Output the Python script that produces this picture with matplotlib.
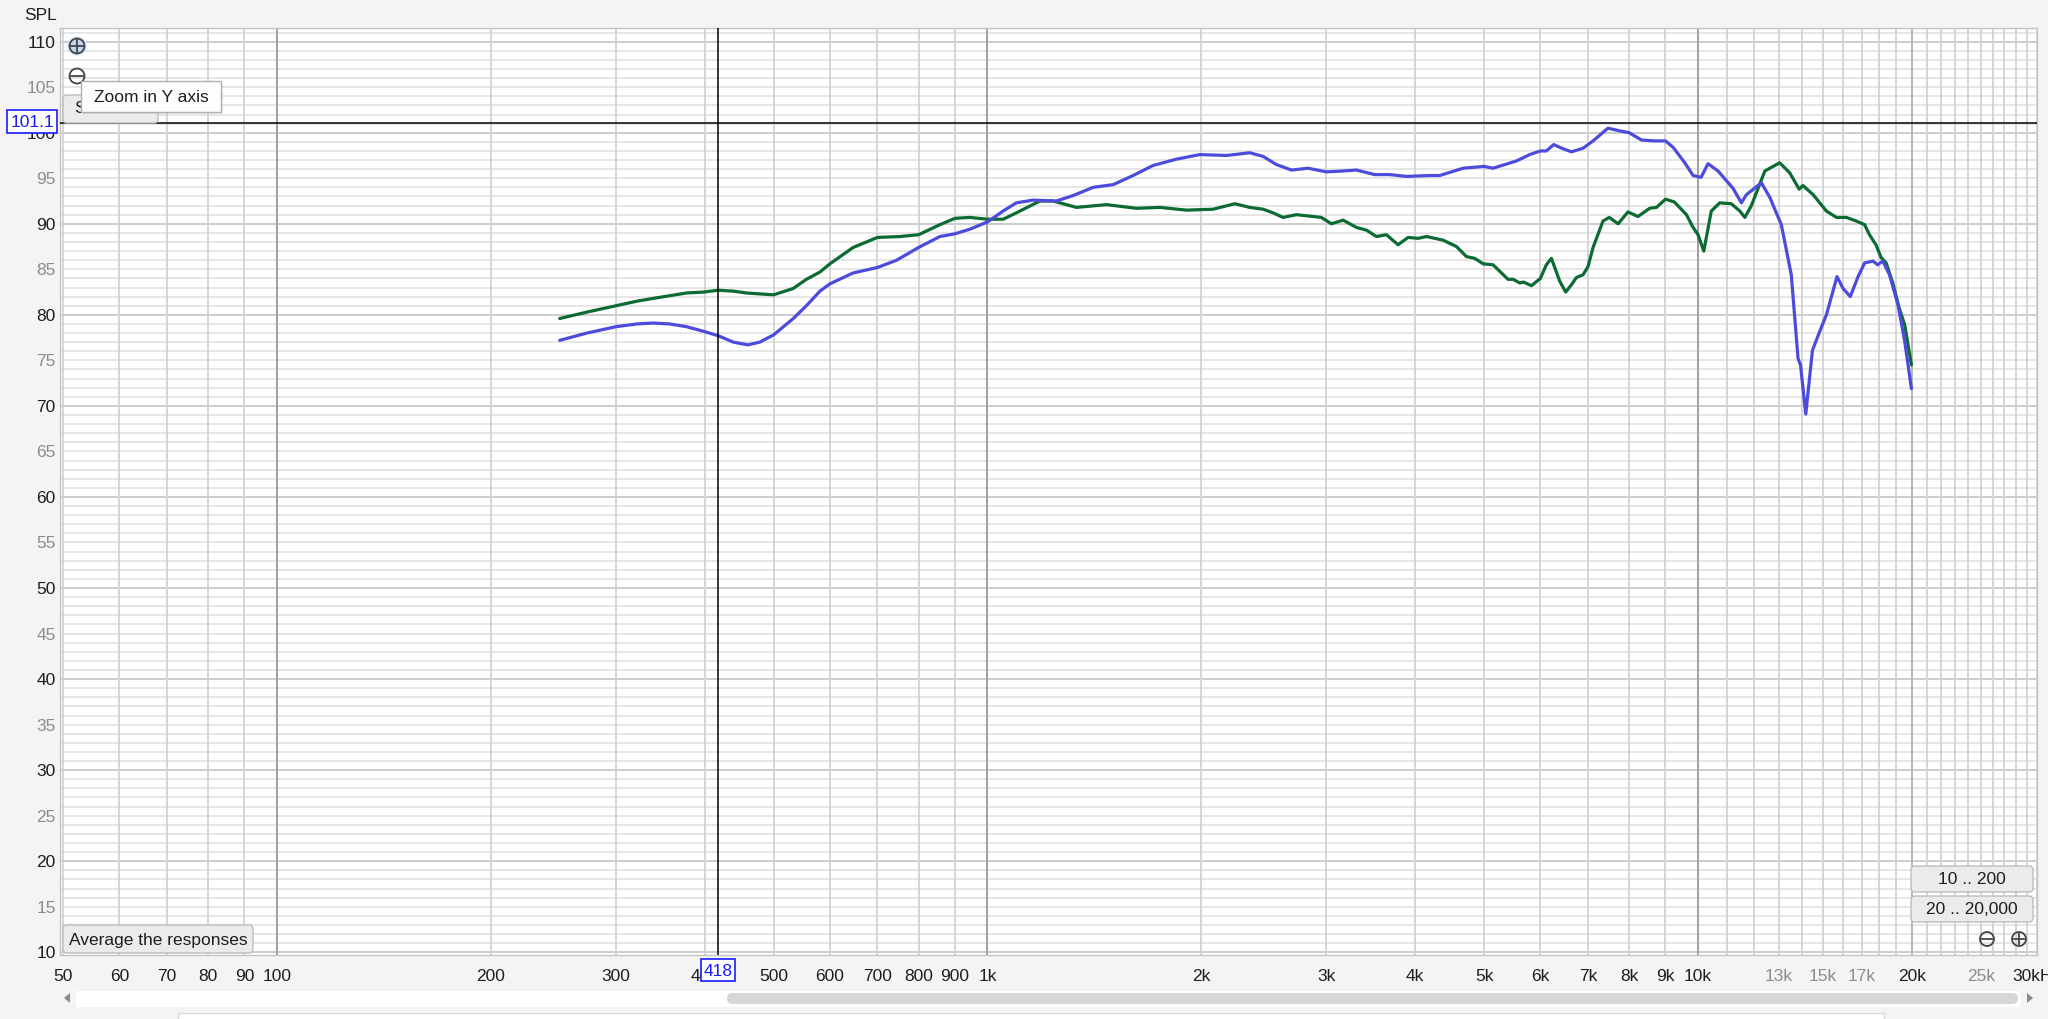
import matplotlib
matplotlib.use("Agg")
import matplotlib.pyplot as plt
from matplotlib.patches import FancyBboxPatch, Rectangle, Circle, Polygon

plt.rcParams['font.family'] = ['Liberation Sans', 'DejaVu Sans']

# ---------------- data ----------------
green_freq = [250, 273, 300, 321, 338, 357, 377, 398, 418, 439, 458, 478, 500, 533, 556, 581, 600,
              647, 700, 753, 800, 857, 900,
              944, 1000, 1052, 1098, 1185, 1237, 1334, 1471, 1621, 1748, 1906, 2077, 2229, 2339,
              2443, 2523, 2606, 2722, 2872, 2950, 3049, 3166, 3306, 3415, 3527, 3643, 3783, 3908,
              4036, 4149, 4378, 4571, 4722, 4851, 4985, 5146, 5403, 5494, 5614, 5680, 5829, 6000,
              6117, 6218, 6266, 6388, 6513, 6635, 6744, 6890, 7002, 7117, 7350, 7500, 7719, 7969,
              8233, 8550, 8742, 9000, 9261, 9632, 9842, 10000, 10190, 10440, 10730, 11140, 11450,
              11640, 11890, 12150, 12420, 13030, 13460, 13880, 14050, 14520, 15160, 15660, 16170,
              16700, 17160, 17430, 17800, 18100, 18400, 18800, 19200, 19540, 19970]
green_spl = [79.6, 80.3, 81.0, 81.5, 81.8, 82.1, 82.4, 82.5, 82.7, 82.6, 82.4, 82.3, 82.2, 82.9,
             83.9, 84.7, 85.6, 87.4, 88.5, 88.6, 88.8,
             89.9, 90.6, 90.7, 90.5, 90.5, 91.2, 92.5, 92.5, 91.8, 92.1, 91.7, 91.8, 91.5, 91.6,
             92.2, 91.8, 91.6, 91.2, 90.7, 91.0, 90.8, 90.7, 90.0, 90.4, 89.6, 89.3, 88.6, 88.8,
             87.7, 88.5, 88.4, 88.6, 88.2, 87.5, 86.4, 86.2, 85.6, 85.5, 83.9, 83.9, 83.5, 83.6,
             83.2, 84.0, 85.5, 86.2, 85.5, 83.7, 82.5, 83.3, 84.1, 84.4, 85.3, 87.4, 90.3, 90.7,
             90.0, 91.3, 90.8, 91.7, 91.8, 92.7, 92.4, 91.0, 89.6, 88.8, 87.0, 91.4, 92.3, 92.2,
             91.4, 90.7, 92.0, 93.9, 95.8, 96.7, 95.6, 93.8, 94.2, 93.2, 91.4, 90.7, 90.7, 90.3,
             89.9, 88.8, 87.7, 86.3, 85.7, 83.5, 80.7, 78.9, 74.5]

blue_freq = [250, 273, 300, 321, 338, 357, 377, 398, 418, 439, 460, 478, 500, 533, 556, 581, 600,
             647, 700, 745, 800, 857, 900, 944,
             1000, 1052, 1098, 1159, 1250, 1320, 1408, 1503, 1603, 1710, 1845, 1990, 2170, 2339,
             2443, 2551, 2678, 2826, 3000, 3166, 3306, 3508, 3682, 3887, 4193, 4330, 4670, 5000,
             5146, 5553, 5797, 6000, 6117, 6265, 6430, 6635, 6890, 7117, 7470, 7761, 8000, 8326,
             8693, 9000, 9224, 9581, 9842, 10100, 10330, 10670, 11200, 11510, 11700, 12280,
             12620, 13100, 13530, 13830, 13940, 14180, 14490, 14840, 15160, 15690, 16000, 16380,
             16800, 17160, 17630, 17900, 18200, 18600, 19120, 19540, 19970]
blue_spl = [77.2, 78.0, 78.7, 79.0, 79.1, 79.0, 78.7, 78.2, 77.7, 77.0, 76.7, 77.0, 77.8, 79.6,
            81.0, 82.6, 83.4, 84.6, 85.2, 86.0, 87.4,
            88.6, 88.9, 89.4, 90.2, 91.4, 92.3, 92.6, 92.5, 93.1, 94.0, 94.3, 95.3, 96.4, 97.1,
            97.6, 97.5, 97.8, 97.4, 96.5, 95.9, 96.1, 95.7, 95.8, 95.9, 95.4, 95.4, 95.2, 95.3,
            95.3, 96.1, 96.3, 96.1, 96.9, 97.6, 98.0, 98.0, 98.7, 98.3, 97.9, 98.3, 99.1, 100.5,
            100.2, 100.0, 99.2, 99.1, 99.1, 98.4, 96.7, 95.3, 95.1, 96.6, 95.8, 93.9, 92.3, 93.2,
            94.5, 92.9, 89.9, 84.4, 75.2, 74.5, 69.1, 76.1, 78.2, 80.0, 84.2, 82.9, 82.0, 84.2,
            85.7, 85.9, 85.5, 85.9, 84.4, 81.1, 77.1, 71.9]

cursor_freq = 418
cursor_spl = 101.1

x_ticks = [50, 60, 70, 80, 90, 100, 200, 300, 400, 500, 600, 700, 800, 900, 1000, 2000, 3000,
           4000, 5000, 6000, 7000, 8000, 9000, 10000, 13000, 15000, 17000, 20000, 25000, 30000]
x_labels = ['50', '60', '70', '80', '90', '100', '200', '300', '400', '500', '600', '700', '800',
            '900', '1k', '2k', '3k', '4k', '5k', '6k', '7k', '8k', '9k', '10k', '13k', '15k',
            '17k', '20k', '25k', '30kHz']
x_grey_labels = ['13k', '15k', '17k', '25k']
y_ticks = list(range(10, 111, 5))
y_labels = [str(v) for v in y_ticks]

# grid line positions
x_grid = ([50, 60, 70, 80, 90] + list(range(100, 1000, 100)) + list(range(1000, 10000, 1000))
          + list(range(10000, 30001, 1000)))
x_grid_major = [100, 1000, 10000]
y_grid_minor = list(range(10, 112))
y_grid_major = list(range(10, 111, 10))

# ---------------- figure ----------------
W, H = 2048, 1019
BG = '#f4f4f4'
FS = 12.5
fig = plt.figure(figsize=(W / 100, H / 100), dpi=100, facecolor=BG)
L, R, T, B = 60, 2037, 28, 955
ax = fig.add_axes([L / W, 1 - B / H, (R - L) / W, (B - T) / H])
ax.set_facecolor('white')
ax.set_xscale('log')
ax.set_xlim(49.5, 30000)
ax.set_ylim(9.7, 111.5)

for v in y_grid_minor:
    ax.axhline(v, color='#e6e6e6', lw=1.4, zorder=0.5)
for v in y_grid_major:
    ax.axhline(v, color='#c9c9c9', lw=1.2, zorder=0.6)
for f in x_grid:
    ax.axvline(f, color='#d2d2d2', lw=1.3, zorder=0.7)
for f in x_grid_major:
    ax.axvline(f, color='#9d9d9d', lw=1.3, zorder=0.8)
ax.axvline(20000, color='#b5b5b5', lw=1.3, zorder=0.8)

ax.plot(green_freq, green_spl, color='#0b6b33', lw=2.3, zorder=3,
        solid_capstyle='round', solid_joinstyle='round')
ax.plot(blue_freq, blue_spl, color='#4d4bdc', lw=2.3, zorder=4,
        solid_capstyle='round', solid_joinstyle='round')

ax.axvline(cursor_freq, color='black', lw=1.1, zorder=5)
ax.axhline(cursor_spl, color='black', lw=1.1, zorder=5)

ax.set_xticks(x_ticks)
ax.set_xticklabels(x_labels)
ax.minorticks_off()
ax.set_yticks(y_ticks)
ax.set_yticklabels(y_labels)
ax.tick_params(axis='both', length=0, labelsize=FS)
ax.tick_params(axis='x', pad=10)
ax.tick_params(axis='y', pad=3)
for lab in ax.get_xticklabels():
    lab.set_color('#8c8c8c' if lab.get_text() in x_grey_labels else '#1e1e1e')
for lab, v in zip(ax.get_yticklabels(), y_ticks):
    lab.set_color('#8c8c8c' if v % 10 else '#1e1e1e')
for s in ax.spines.values():
    s.set_color('#c4c4c4')
    s.set_linewidth(1.0)

# ---------------- UI overlay (pixel coordinates) ----------------
ov = fig.add_axes([0, 0, 1, 1], zorder=10)
ov.set_xlim(0, W)
ov.set_ylim(H, 0)
ov.axis('off')
ov.patch.set_alpha(0)


def button(x0, y0, x1, y1, text=None, fs=FS, z=2):
    ov.add_patch(FancyBboxPatch((x0, y0), x1 - x0, y1 - y0,
                                boxstyle='round,pad=0,rounding_size=4',
                                fc='#ebebeb', ec='#bdbdbd', lw=1.0, zorder=z))
    if text:
        ov.text((x0 + x1) / 2, (y0 + y1) / 2 + 1, text, ha='center', va='center',
                fontsize=fs, color='#1e1e1e', zorder=z + 0.5)


def value_box(x0, y0, x1, y1, text):
    ov.add_patch(Rectangle((x0, y0), x1 - x0, y1 - y0, fc='white', ec='#1a1aff', lw=1.2, zorder=2))
    ov.text((x0 + x1) / 2, (y0 + y1) / 2 + 1, text, ha='center', va='center',
            fontsize=FS, color='#1a1aff', zorder=2.5)


def zoom_icon(cx, cy, plus, fill='none', r=7.5):
    ov.add_patch(Circle((cx, cy), r, fc=fill, ec='#444444', lw=1.3, zorder=2))
    ov.plot([cx - r * 0.75, cx + r * 0.75], [cy, cy], color='#444444', lw=1.3, zorder=2.5)
    if plus:
        ov.plot([cx, cx], [cy - r * 0.75, cy + r * 0.75], color='#444444', lw=1.3, zorder=2.5)


ov.text(41, 15, 'SPL', ha='center', va='center', fontsize=FS, color='#1e1e1e')
ov.add_patch(Circle((77, 46), 10, fc='#d8ebfa', ec='none', alpha=0.8, zorder=1.5))
zoom_icon(77, 46, True, fill='#bcd8f2')
zoom_icon(77, 76, False)

# partially hidden "SPL" button behind tooltip
ov.add_patch(FancyBboxPatch((63, 95), 95, 28, boxstyle='round,pad=0,rounding_size=4',
                            fc='#ebebeb', ec='#bdbdbd', lw=1.0, zorder=3))
ov.text(91, 108, 'SPL', ha='center', va='center', fontsize=FS, color='#1e1e1e', zorder=3.5)
# tooltip (on top)
ov.add_patch(Rectangle((83, 83), 140, 31, fc='#00000012', ec='none', zorder=5))
ov.add_patch(Rectangle((81, 81), 140, 31, fc='#fdfdfd', ec='#b0b0b0', lw=1.0, zorder=6))
ov.text(151, 97, 'Zoom in Y axis', ha='center', va='center', fontsize=FS,
        color='#1e1e1e', zorder=7)

value_box(7, 110, 57, 133, '101.1')
value_box(701, 959, 735, 981, '418')

button(63, 925, 253, 953, 'Average the responses')
button(1911, 866, 2033, 892, '10 .. 200')
button(1911, 896, 2033, 922, '20 .. 20,000')
zoom_icon(1987, 939, False, r=7)
zoom_icon(2019, 939, True, r=7)

# scroll bar
ov.add_patch(Rectangle((76, 991), 1944, 16, fc='white', ec='none', zorder=1))
ov.add_patch(FancyBboxPatch((727, 993), 1291, 11, boxstyle='round,pad=0,rounding_size=5.5',
                            fc='#d6d6d6', ec='none', zorder=1.2))
ov.add_patch(Polygon([[70, 993], [70, 1003], [64, 998]], closed=True, fc='#8a8a8a', ec='none'))
ov.add_patch(Polygon([[2027, 993], [2027, 1003], [2033, 998]], closed=True, fc='#8a8a8a', ec='none'))
ov.add_patch(Rectangle((178, 1013), 1706, 10, fc='white', ec='#d8d8d8', lw=1.0))

fig.savefig('out.png', dpi=100, facecolor=BG)
